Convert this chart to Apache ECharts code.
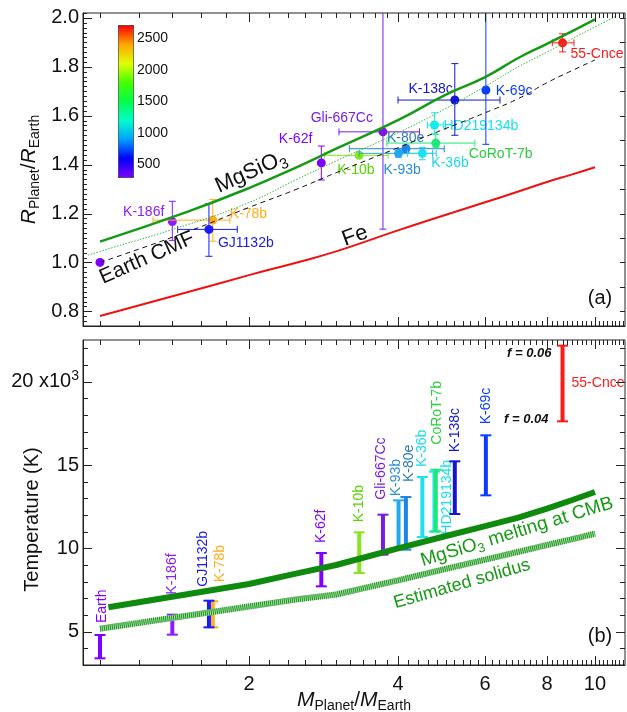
<!DOCTYPE html>
<html>
<head>
<meta charset="utf-8">
<script src="https://cdn.jsdelivr.net/npm/echarts@6/dist/echarts.min.js"></script>
<style>
html, body { margin: 0; padding: 0; background: #fff; }
#chart { width: 627px; height: 712px; }
</style>
</head>
<body>
<div id="chart"></div>
<script>
const FONT = '"Liberation Sans", Arial, Helvetica, sans-serif';

// planets (same order in both panels)
const planetNames = ['Earth', 'K-186f', 'K-78b', 'GJ1132b', 'K-62f', 'K-10b', 'Gli-667Cc', 'K-93b', 'K-80e', 'K-36b', 'HD219134b', 'CoRoT-7b', 'K-138c', 'K-69c', '55-Cnce'];
const planetColors = ['#7f00ff', '#8a1cff', '#ffad1a', '#1a1aff', '#8000ff', '#86e61e', '#7a1ae6', '#22aaee', '#1e84e8', '#1ee0f0', '#14ecec', '#1ee87a', '#1414d2', '#0a3cff', '#ff1a1a'];
const labelColors = ['#7f00ff', '#8a1cff', '#ffad1a', '#1a1ae6', '#8000ff', '#55d400', '#7a1ae6', '#2b8fd6', '#2e7bb8', '#1ed8ec', '#14e0ec', '#2ccc3c', '#1414d2', '#0a3cff', '#ff1a1a'];

// (a) mass / radius with error bars
const planetMass = [1, 1.40, 1.69, 1.66, 2.80, 3.34, 3.73, 4.01, 4.15, 4.48, 4.74, 4.77, 5.21, 6.02, 8.6];
const massLow = [null, null, 1.28, 1.435, null, 2.84, 3.04, 3.34, 3.19, 4.18, 4.59, 3.80, 4.00, null, 8.2];
const massHigh = [null, null, 1.83, 1.894, null, 3.82, 4.42, 4.70, 4.96, 4.78, 4.94, 5.72, 6.43, null, 9.07];
const planetRadius = [1.0, 1.167, 1.173, 1.135, 1.407, 1.438, 1.534, 1.446, 1.465, 1.446, 1.562, 1.488, 1.664, 1.705, 1.898];
const radiusLow = [null, 1.09, 1.087, 1.025, 1.337, 1.43, 1.136, 1.43, 1.45, 1.42, 1.526, 1.469, 1.52, 1.483, 1.861];
const radiusHigh = [null, 1.25, 1.258, 1.24, 1.476, 1.45, 2.05, 1.465, 1.48, 1.47, 1.612, 1.524, 1.813, 2.05, 1.935];

// (b) temperature ranges
const tempLow = [3400, 4820, 5260, 5260, 7720, 8520, 9620, 10020, 9920, 10680, 11000, 11020, 12060, 13180, 17620];
const tempHigh = [4800, 6020, 6820, 6860, 9720, 10960, 12020, 12880, 13080, 14280, 14600, 14720, 15220, 16780, 22160];

// model curves (a)
const curveMass = [1, 1.5, 2, 2.5, 3, 4, 5, 6, 7, 8, 9, 10];
const mgsio3Radius = [1.085, 1.207, 1.304, 1.39, 1.465, 1.582, 1.686, 1.758, 1.836, 1.894, 1.946, 1.994];
const earthCmfRadius = [1.0, 1.125, 1.225, 1.30, 1.367, 1.469, 1.548, 1.612, 1.67, 1.735, 1.785, 1.828];
const feRadius = [0.781, 0.878, 0.948, 1.0, 1.045, 1.131, 1.195, 1.246, 1.290, 1.329, 1.36, 1.389];
const dottedMass = [0.946, 1, 1.5, 2, 2.5, 3, 4, 5, 6, 7, 8, 9, 10, 11];
const dottedRadius = [1.03, 1.045, 1.154, 1.245, 1.34, 1.415, 1.53, 1.63, 1.72, 1.80, 1.86, 1.915, 1.963, 2.005];

// model curves (b)
const meltMass = [1.04, 1.5, 2, 2.5, 3, 4, 5, 6, 7, 8, 9, 10];
const meltTemp = [6460, 7240, 7860, 8500, 9000, 10000, 10740, 11330, 11840, 12380, 12900, 13380];
const solidusMass = [1, 1.5, 2, 2.5, 3, 4, 5, 6, 7, 8, 9, 10];
const solidusTemp = [5180, 5960, 6510, 6940, 7230, 8080, 8770, 9320, 9790, 10200, 10550, 10880];

// ticks
const massTickLabels = [2, 4, 6, 8, 10];
const radiusTickLabels = [0.8, 1.0, 1.2, 1.4, 1.6, 1.8, 2.0];
const tempTickLabels = [5000, 10000, 15000, 20000];
const colorbarTicks = [500, 1000, 1500, 2000, 2500];
const colorbarColors = ['#7f00ff', '#0000ff', '#00a0ff', '#00ffcc', '#00ff47', '#47ff00', '#e0ff00', '#ffa600', '#ff0000'];

const massMinorTicks = [];
for (let k = 5; k <= 57; k++) massMinorTicks.push(+(k * 0.2).toFixed(1));
const radiusMinorTicks = [];
for (let k = 37; k <= 101; k++) radiusMinorTicks.push(+(k * 0.02).toFixed(2));
const radiusRightTicks = [];
for (let k = 8; k <= 20; k++) radiusRightTicks.push(+(k * 0.1).toFixed(1));
const tempMinorTicks = [];
for (let k = 3; k <= 22; k++) tempMinorTicks.push(k * 1000);

const xMin = 0.924, xMax = 11.5;
const rMin = 0.74, rMax = 2.02;
const tMin = 3000, tMax = 22500;

// label placement
const topLabelLayout = {
  'K-186f': [-8, -9, 'right'], 'K-78b': [17, -6, 'left'], 'GJ1132b': [9, 14, 'left'],
  'K-62f': [-9, -24, 'right'], 'K-10b': [-22, 15, 'left'], 'Gli-667Cc': [-10, -14, 'right'],
  'K-93b': [-15, 17, 'left'], 'K-80e': [-19, -11, 'left'], 'K-36b': [9, 10, 'left'],
  'HD219134b': [9, 1, 'left'], 'CoRoT-7b': [33, 11, 'left'], 'K-138c': [-2, -11, 'right'],
  'K-69c': [10, 1, 'left'], '55-Cnce': [8, 11, 'left']
};
const bottomLabelLayout = {
  'Earth': [2, 12], 'K-186f': [0, 20], 'GJ1132b': [-6, 14], 'K-78b': [7, 19], 'K-62f': [0, 10],
  'K-10b': [0, 10], 'Gli-667Cc': [-2, 15], 'K-93b': [-2, 4], 'K-80e': [3, 15], 'K-36b': [0, 10],
  'CoRoT-7b': [1, 25], 'K-138c': [0, 9], 'K-69c': [0, 11]
};

const nameRich = {
  i: { fontStyle: 'italic', fontSize: 21, lineHeight: 26, fontFamily: FONT, color: '#111' },
  n: { fontSize: 21, lineHeight: 26, fontFamily: FONT, color: '#111' },
  s: { fontSize: 14, lineHeight: 12, verticalAlign: 'bottom', fontFamily: FONT, color: '#111' }
};

function massAxis(gridIndex, withLabels) {
  return {
    type: 'log', logBase: 10, gridIndex: gridIndex, position: 'bottom',
    min: xMin, max: xMax,
    axisLine: { show: true, onZero: false, lineStyle: { color: '#222', width: 1 } },
    axisTick: { show: false },
    axisLabel: withLabels
      ? { show: true, customValues: massTickLabels, margin: 9, fontSize: 20, color: '#111', fontFamily: FONT }
      : { show: false },
    splitLine: { show: false },
    name: withLabels ? '{i|M}{s|Planet}{n|/}{i|M}{s|Earth}' : '',
    nameLocation: 'middle', nameGap: 22, nameMoveOverlap: false,
    nameTextStyle: { rich: nameRich }
  };
}

const yRadius = {
  type: 'value', gridIndex: 0, position: 'left', min: rMin, max: rMax,
  axisLine: { show: true, onZero: false, lineStyle: { color: '#222', width: 1 } },
  axisTick: { show: false }, splitLine: { show: false },
  axisLabel: { show: true, customValues: radiusTickLabels, margin: 4, fontSize: 20, color: '#111', fontFamily: FONT,
    formatter: v => v.toFixed(1) },
  name: '{i|R}{s|Planet}{n|/}{i|R}{s|Earth}',
  nameLocation: 'middle', nameRotate: 90, nameGap: 41, nameMoveOverlap: false,
  nameTextStyle: { rich: nameRich }
};

const yTemp = {
  type: 'value', gridIndex: 1, position: 'left', min: tMin, max: tMax,
  axisLine: { show: true, onZero: false, lineStyle: { color: '#222', width: 1 } },
  axisTick: { show: false }, splitLine: { show: false },
  axisLabel: { show: true, customValues: tempTickLabels, margin: 4, fontSize: 20, lineHeight: 26, color: '#111', fontFamily: FONT,
    formatter: v => v === 20000 ? '20 x10{sup|3}' : String(v / 1000),
    rich: { sup: { fontSize: 14, lineHeight: 12, verticalAlign: 'top', fontFamily: FONT, color: '#111' } } },
  name: 'Temperature (K)',
  nameLocation: 'middle', nameRotate: 90, nameGap: 41, nameMoveOverlap: false,
  nameTextStyle: { fontSize: 20, fontFamily: FONT, color: '#111', padding: [0, 34, 0, 0] }
};

const CAP = 3.5;
function renderPlanet(params, api) {
  const i = params.dataIndex;
  const color = planetColors[i];
  const m = api.value(0), r = api.value(1);
  const c = api.coord([m, r]);
  const topY = params.coordSys.y;
  const seg = (x1, y1, x2, y2) => ({ type: 'line', shape: { x1: x1, y1: y1, x2: x2, y2: y2 }, style: { stroke: color, lineWidth: 1 } });
  const els = [];
  if (massLow[i] != null) {
    const xl = api.coord([massLow[i], r])[0];
    const xh = api.coord([massHigh[i], r])[0];
    els.push(seg(xl, c[1], xh, c[1]), seg(xl, c[1] - CAP, xl, c[1] + CAP), seg(xh, c[1] - CAP, xh, c[1] + CAP));
  }
  if (radiusLow[i] != null) {
    const yl = api.coord([m, radiusLow[i]])[1];
    const yh = api.coord([m, radiusHigh[i]])[1];
    els.push(seg(c[0], yl, c[0], Math.max(yh, topY)), seg(c[0] - CAP, yl, c[0] + CAP, yl));
    if (yh >= topY) els.push(seg(c[0] - CAP, yh, c[0] + CAP, yh));
  }
  els.push({ type: 'circle', shape: { cx: c[0], cy: c[1], r: 4.5 }, style: { fill: color } });
  const lay = topLabelLayout[planetNames[i]];
  if (lay) {
    els.push({
      type: 'text', x: c[0] + lay[0], y: c[1] + lay[1],
      style: { text: planetNames[i], fill: labelColors[i], font: '14px ' + FONT, align: lay[2], verticalAlign: 'middle' }
    });
  }
  return { type: 'group', children: els };
}

function renderBar(params, api) {
  const i = params.dataIndex;
  const color = planetColors[i];
  const m = api.value(0);
  const lo = api.coord([m, api.value(1)]);
  const hi = api.coord([m, api.value(2)]);
  const x = lo[0];
  const els = [
    { type: 'rect', shape: { x: x - 2, y: hi[1], width: 4, height: lo[1] - hi[1] }, style: { fill: color } },
    { type: 'rect', shape: { x: x - 5.5, y: hi[1] - 1, width: 11, height: 2 }, style: { fill: color } },
    { type: 'rect', shape: { x: x - 5.5, y: lo[1] - 1, width: 11, height: 2 }, style: { fill: color } }
  ];
  const name = planetNames[i];
  const font = '14px ' + FONT;
  if (name === 'HD219134b') {
    els.push({ type: 'text', x: x + 13, y: lo[1] + 3, rotation: Math.PI / 2,
      style: { text: name, fill: labelColors[i], font: font, align: 'left', verticalAlign: 'middle' } });
  } else if (name === '55-Cnce') {
    els.push({ type: 'text', x: x + 9, y: (lo[1] + hi[1]) / 2,
      style: { text: name, fill: labelColors[i], font: font, align: 'left', verticalAlign: 'middle' } });
    els.push({ type: 'text', x: x - 11, y: hi[1] + 8,
      style: { text: 'f = 0.06', fill: '#111', font: 'italic bold 13px ' + FONT, align: 'right', verticalAlign: 'middle' } });
    els.push({ type: 'text', x: x - 14, y: lo[1] - 2,
      style: { text: 'f = 0.04', fill: '#111', font: 'italic bold 13px ' + FONT, align: 'right', verticalAlign: 'middle' } });
  } else {
    const lay = bottomLabelLayout[name] || [0, 10];
    els.push({ type: 'text', x: x + lay[0], y: hi[1] - lay[1], rotation: Math.PI / 2,
      style: { text: name, fill: labelColors[i], font: font, align: 'left', verticalAlign: 'middle' } });
  }
  return { type: 'group', children: els };
}

const zip = (xs, ys) => xs.map((x, k) => [x, ys[k]]);
const deg = d => d * Math.PI / 180;

const gridBox = { show: true, borderColor: '#222', borderWidth: 1, outerBoundsMode: 'none' };

const textGraphics = [
  { type: 'text', x: 251, y: 172, rotation: deg(24),
    style: { text: '{m|MgSiO}{s|3}', align: 'center', verticalAlign: 'middle',
      rich: { m: { fontSize: 22, lineHeight: 28, fontFamily: FONT, fill: '#111' },
              s: { fontSize: 15, lineHeight: 14, verticalAlign: 'bottom', fontFamily: FONT, fill: '#111' } } } },
  { type: 'text', x: 147, y: 258, rotation: deg(24),
    style: { text: 'Earth CMF', font: '21px ' + FONT, fill: '#111', align: 'center', verticalAlign: 'middle' } },
  { type: 'text', x: 355, y: 236, rotation: deg(20),
    style: { text: 'Fe', font: '22px ' + FONT, fill: '#111', align: 'center', verticalAlign: 'middle' } },
  { type: 'text', x: 600, y: 298,
    style: { text: '(a)', font: '20px ' + FONT, fill: '#111', align: 'center', verticalAlign: 'middle' } },
  { type: 'text', x: 517, y: 532, rotation: deg(17),
    style: { text: '{m|MgSiO}{s|3}{m| melting at CMB}', align: 'center', verticalAlign: 'middle',
      rich: { m: { fontSize: 19, lineHeight: 24, fontFamily: FONT, fill: '#169a16' },
              s: { fontSize: 13, lineHeight: 12, verticalAlign: 'bottom', fontFamily: FONT, fill: '#169a16' } } } },
  { type: 'text', x: 462, y: 584, rotation: deg(16),
    style: { text: 'Estimated solidus', font: '18px ' + FONT, fill: '#169a16', align: 'center', verticalAlign: 'middle' } },
  { type: 'text', x: 600, y: 636,
    style: { text: '(b)', font: '20px ' + FONT, fill: '#111', align: 'center', verticalAlign: 'middle' } }
];

const option = {
  animation: false,
  backgroundColor: '#fff',
  grid: [
    Object.assign({ left: 83, right: 2, top: 13, height: 313 }, gridBox),
    Object.assign({ left: 83, right: 2, top: 340, height: 325 }, gridBox),
    { left: 118, top: 25, width: 15, height: 152, outerBoundsMode: 'none' }
  ],
  xAxis: [
    massAxis(0, false),
    massAxis(1, true),
    { type: 'value', gridIndex: 2, show: false, min: 0, max: 1 }
  ],
  yAxis: [
    yRadius,
    yTemp,
    {
      type: 'value', gridIndex: 2, position: 'right', min: 300, max: 2710,
      axisLine: { show: false }, splitLine: { show: false },
      axisTick: { show: false },
      axisLabel: { show: true, customValues: colorbarTicks, margin: 4, fontSize: 14, color: '#111', fontFamily: FONT,
        formatter: v => String(v) }
    }
  ],
  visualMap: {
    type: 'continuous', min: 300, max: 2710, calculable: false, seriesIndex: 9,
    left: 118, top: 25, itemWidth: 15, itemHeight: 152, padding: 0,
    borderColor: '#333', borderWidth: 1,
    inRange: { color: colorbarColors }
  },
  series: [
    { type: 'line', name: 'MgSiO3', xAxisIndex: 0, yAxisIndex: 0, data: zip(curveMass, mgsio3Radius),
      showSymbol: false, smooth: true, lineStyle: { color: '#169a16', width: 2.5 } },
    { type: 'line', name: 'dotted', xAxisIndex: 0, yAxisIndex: 0, data: zip(dottedMass, dottedRadius),
      showSymbol: false, smooth: true, lineStyle: { color: '#3cb83c', width: 1, type: [1.5, 1.5] } },
    { type: 'line', name: 'Earth CMF', xAxisIndex: 0, yAxisIndex: 0, data: zip(curveMass, earthCmfRadius),
      showSymbol: false, smooth: true, lineStyle: { color: '#111', width: 1, type: [5, 4] } },
    { type: 'line', name: 'Fe', xAxisIndex: 0, yAxisIndex: 0, data: zip(curveMass, feRadius),
      showSymbol: false, smooth: true, lineStyle: { color: '#ee1111', width: 2 } },
    { type: 'custom', name: 'planets', xAxisIndex: 0, yAxisIndex: 0,
      data: zip(planetMass, planetRadius), renderItem: renderPlanet },
    { type: 'line', name: 'melting', xAxisIndex: 1, yAxisIndex: 1, data: zip(meltMass, meltTemp),
      showSymbol: false, lineStyle: { color: '#0f8a0f', width: 6 } },
    { type: 'line', name: 'solidus', xAxisIndex: 1, yAxisIndex: 1, data: zip(solidusMass, solidusTemp),
      showSymbol: false, lineStyle: { color: '#a6dca6', width: 6 } },
    { type: 'line', name: 'solidus hatch', xAxisIndex: 1, yAxisIndex: 1, data: zip(solidusMass, solidusTemp),
      showSymbol: false, lineStyle: { color: '#1c961c', width: 6, type: [1, 1] } },
    { type: 'custom', name: 'temperature', xAxisIndex: 1, yAxisIndex: 1,
      data: planetMass.map((m, k) => [m, tempLow[k], tempHigh[k]]),
      encode: { x: 0, y: [1, 2] }, renderItem: renderBar },
    { type: 'scatter', name: 'colorbar', xAxisIndex: 2, yAxisIndex: 2, data: [] }
  ],
  graphic: textGraphics
};

const chart = echarts.init(document.getElementById('chart'), null, { renderer: 'canvas' });
chart.setOption(option);

// inward ticks on all four edges, placed with the axes' own scales
function tickGraphics(gridIndex, yMin, yMax, xTicks, yTicks) {
  const px = (x, y) => chart.convertToPixel({ gridIndex: gridIndex }, [x, y]);
  const top = px(xMin, yMax)[1], bottom = px(xMin, yMin)[1];
  const left = px(xMin, yMin)[0], right = px(xMax, yMin)[0];
  const crisp = v => Math.round(v) + 0.5;
  const out = [];
  const line = (x1, y1, x2, y2) => out.push({ type: 'line', silent: true, z: 50,
    shape: { x1: x1, y1: y1, x2: x2, y2: y2 }, style: { stroke: '#222', lineWidth: 1 } });
  xTicks.forEach(t => {
    const x = crisp(px(t[0], yMin)[0]);
    line(x, bottom, x, bottom - t[1]);
    line(x, top, x, top + t[1]);
  });
  yTicks.forEach(t => {
    const y = crisp(px(xMin, t[0])[1]);
    if (t[1] > 0) line(left, y, left + t[1], y);
    if (t[2] > 0) line(right, y, right - t[2], y);
  });
  return out;
}

const massTicks = massMinorTicks.map(v => [v, 5]).concat(massTickLabels.map(v => [v, 9]));
const radiusTicks = radiusMinorTicks.map(v => [v, 4, 0])
  .concat(radiusTickLabels.map(v => [v, 9, 0]))
  .concat(radiusRightTicks.map(v => [v, 0, 5]));
const tempTicks = tempMinorTicks.map(v => [v, 5, 5]).concat(tempTickLabels.map(v => [v, 9, 9]));

chart.setOption({
  graphic: textGraphics
    .concat(tickGraphics(0, rMin, rMax, massTicks, radiusTicks))
    .concat(tickGraphics(1, tMin, tMax, massTicks, tempTicks))
});
</script>
</body>
</html>
